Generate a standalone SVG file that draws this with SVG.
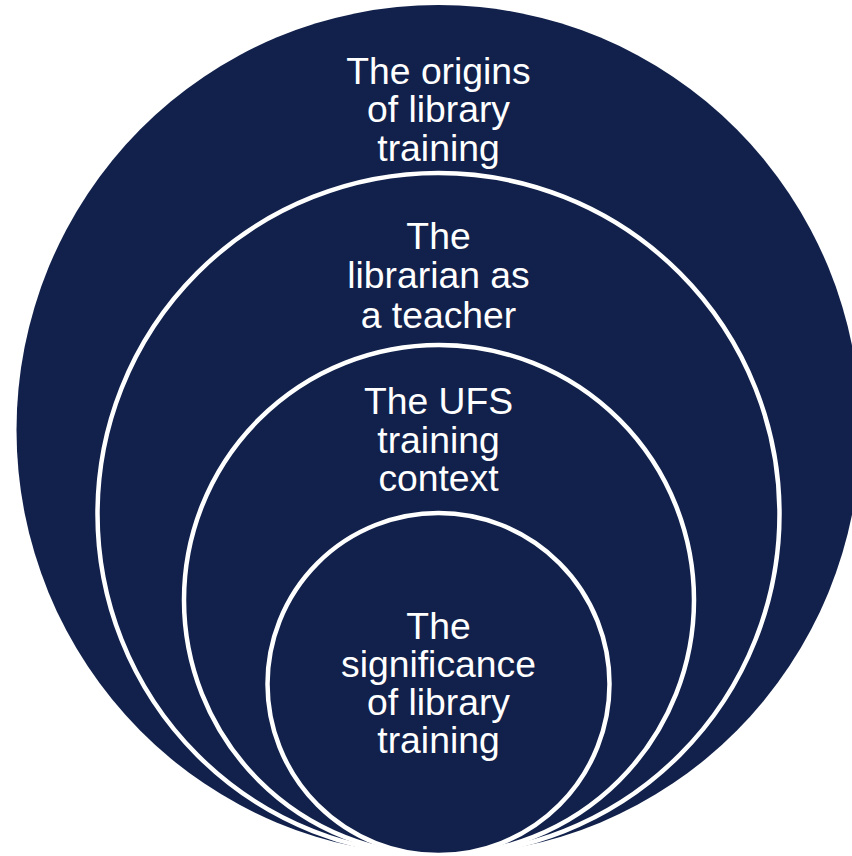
<svg xmlns="http://www.w3.org/2000/svg" width="852" height="856" viewBox="0 0 852 856">
<style>
.ring{fill:#11214B;stroke:#FFFFFF;stroke-width:4.5}
.lbl{font-family:"Liberation Sans",Arial,sans-serif;font-size:37.3px;fill:#FFFFFF;text-anchor:middle}
</style>
<rect width="852" height="856" fill="#FFFFFF"/>
<g id="node-origins">
<ellipse cx="438.5" cy="430" rx="422" ry="425" fill="#11214B"/>
<text class="lbl" x="438.5" y="83.5">The origins</text>
<text class="lbl" x="438.5" y="122">of library</text>
<text class="lbl" x="438.5" y="160.5">training</text>
</g>
<g id="node-librarian">
<circle class="ring" cx="438.5" cy="514" r="341"/>
<text class="lbl" x="438.5" y="249">The</text>
<text class="lbl" x="438.5" y="288">librarian as</text>
<text class="lbl" x="438.5" y="327.5">a teacher</text>
</g>
<g id="node-ufs">
<circle class="ring" cx="439" cy="600" r="255"/>
<text class="lbl" x="438.5" y="414">The UFS</text>
<text class="lbl" x="438.5" y="452.5">training</text>
<text class="lbl" x="438.5" y="491">context</text>
</g>
<g id="node-significance">
<circle class="ring" cx="438.5" cy="684" r="171"/>
<text class="lbl" x="438.5" y="639">The</text>
<text class="lbl" x="438.5" y="677">significance</text>
<text class="lbl" x="438.5" y="715">of library</text>
<text class="lbl" x="438.5" y="753">training</text>
</g>
<g id="connectors"/>
</svg>
